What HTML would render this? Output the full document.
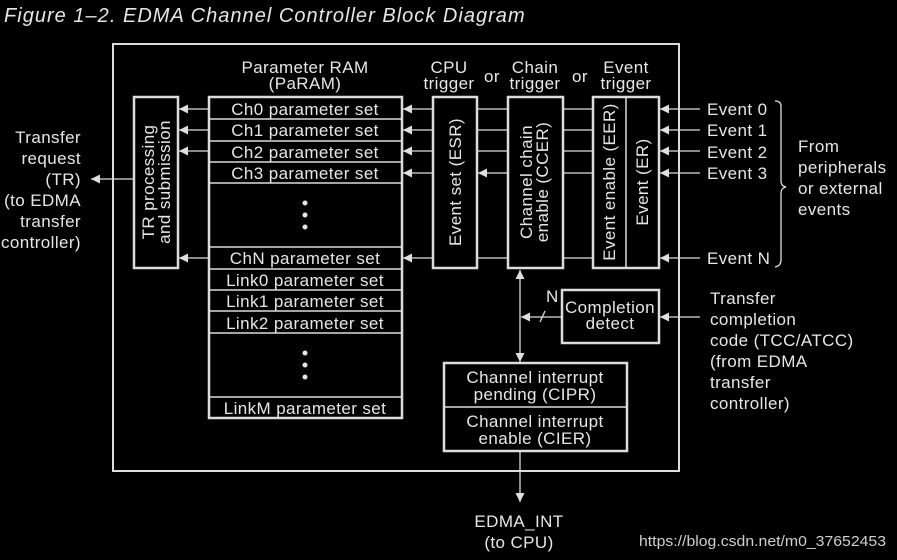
<!DOCTYPE html>
<html><head><meta charset="utf-8"><style>
html,body{margin:0;padding:0;background:#000;}
svg{display:block}
text{font-family:"Liberation Sans",sans-serif;fill:#e6e6e6;font-size:17px;letter-spacing:0.4px}
</style></head><body>
<svg width="897" height="560" viewBox="0 0 897 560" xmlns="http://www.w3.org/2000/svg">
<defs>
<marker id="a" viewBox="0 0 10 10" refX="10" refY="5" markerWidth="9" markerHeight="9" markerUnits="userSpaceOnUse" orient="auto"><path d="M0,0 L10,5 L0,10 z" fill="#e0e0e0"/></marker>
</defs>
<text x="4" y="22" font-style="italic" style="font-size:20px" textLength="521" lengthAdjust="spacing">Figure 1–2.  EDMA Channel Controller Block Diagram</text>
<g fill="none" stroke="#dcdcdc">
<rect x="113" y="44" width="566" height="427" stroke-width="2"/>
<rect x="134" y="97" width="44" height="171" stroke-width="2.5"/>
<rect x="209" y="97" width="193" height="321" stroke-width="2.5"/>
<rect x="433" y="97" width="44" height="171" stroke-width="2.5"/>
<rect x="508" y="97" width="55" height="171" stroke-width="2.5"/>
<rect x="593" y="97" width="66" height="171" stroke-width="2.5"/>
<line x1="626" y1="97" x2="626" y2="268" stroke-width="1.5"/>
<rect x="562" y="290" width="97" height="53" stroke-width="2.5"/>
<rect x="444" y="363" width="183" height="88" stroke-width="2.5"/>
<line x1="444" y1="407" x2="627" y2="407" stroke-width="1.5"/>
<g stroke-width="1.5">
<line x1="209" y1="119" x2="402" y2="119"/><line x1="209" y1="141" x2="402" y2="141"/>
<line x1="209" y1="162" x2="402" y2="162"/><line x1="209" y1="183" x2="402" y2="183"/>
<line x1="209" y1="247" x2="402" y2="247"/><line x1="209" y1="269" x2="402" y2="269"/>
<line x1="209" y1="290" x2="402" y2="290"/><line x1="209" y1="311" x2="402" y2="311"/>
<line x1="209" y1="333" x2="402" y2="333"/><line x1="209" y1="397" x2="402" y2="397"/>
</g>
<g stroke-width="1.3" marker-end="url(#a)">
<line x1="209" y1="109" x2="179" y2="109"/><line x1="209" y1="130" x2="179" y2="130"/>
<line x1="209" y1="151" x2="179" y2="151"/><line x1="209" y1="258" x2="179" y2="258"/>
<line x1="433" y1="109" x2="403" y2="109"/><line x1="433" y1="130" x2="403" y2="130"/>
<line x1="433" y1="151" x2="403" y2="151"/><line x1="433" y1="173" x2="403" y2="173"/>
<line x1="433" y1="258" x2="403" y2="258"/>
<line x1="508" y1="173" x2="478" y2="173"/>
<line x1="700" y1="109" x2="660" y2="109"/><line x1="700" y1="130" x2="660" y2="130"/>
<line x1="700" y1="151" x2="660" y2="151"/><line x1="700" y1="173" x2="660" y2="173"/>
<line x1="700" y1="258" x2="660" y2="258"/>
<line x1="700" y1="317" x2="660" y2="317"/>
<line x1="562" y1="317" x2="521" y2="317"/>
<line x1="134" y1="179" x2="91" y2="179"/>
<line x1="520" y1="451" x2="520" y2="502"/>
<line x1="520" y1="300" x2="520" y2="270"/>
<line x1="520" y1="300" x2="520" y2="362"/>
</g>
<g stroke-width="1.3">
<line x1="477" y1="109" x2="508" y2="109"/><line x1="477" y1="130" x2="508" y2="130"/>
<line x1="477" y1="151" x2="508" y2="151"/><line x1="477" y1="258" x2="508" y2="258"/>
<line x1="563" y1="109" x2="593" y2="109"/><line x1="563" y1="130" x2="593" y2="130"/>
<line x1="563" y1="151" x2="593" y2="151"/><line x1="563" y1="173" x2="593" y2="173"/>
<line x1="563" y1="258" x2="593" y2="258"/>
<line x1="545" y1="311" x2="540" y2="322"/>
<path d="M775,101 Q781,101 781,106 L781,181 Q781,186 786,187 Q781,188 781,193 L781,260 Q781,266 775,267"/>
</g>
</g>
<g fill="#e6e6e6">
<circle cx="305" cy="203" r="2.5"/><circle cx="305" cy="215" r="2.5"/><circle cx="305" cy="227" r="2.5"/>
<circle cx="305" cy="353" r="2.5"/><circle cx="305" cy="365" r="2.5"/><circle cx="305" cy="377" r="2.5"/>
</g>
<g text-anchor="middle">
<text x="305" y="73">Parameter RAM</text><text x="305" y="89">(PaRAM)</text>
<text x="449" y="73">CPU</text><text x="449" y="89">trigger</text>
<text x="492" y="82">or</text>
<text x="535" y="73">Chain</text><text x="535" y="89">trigger</text>
<text x="580" y="82">or</text>
<text x="626" y="73">Event</text><text x="626" y="89">trigger</text>
<text x="305" y="115">Ch0 parameter set</text>
<text x="305" y="136">Ch1 parameter set</text>
<text x="305" y="158">Ch2 parameter set</text>
<text x="305" y="179">Ch3 parameter set</text>
<text x="305" y="264">ChN parameter set</text>
<text x="305" y="286">Link0 parameter set</text>
<text x="305" y="307">Link1 parameter set</text>
<text x="305" y="329">Link2 parameter set</text>
<text x="305" y="414">LinkM parameter set</text>
<text x="610" y="313">Completion</text><text x="610" y="329">detect</text>
<text x="535" y="383">Channel interrupt</text><text x="535" y="400">pending (CIPR)</text>
<text x="535" y="427">Channel interrupt</text><text x="535" y="444">enable (CIER)</text>
<text x="519" y="527">EDMA_INT</text><text x="519" y="548">(to CPU)</text>
<text transform="translate(157,182) rotate(-90)" y="-3">TR processing</text>
<text transform="translate(157,182) rotate(-90)" y="13">and submission</text>
<text transform="translate(455,182) rotate(-90)" y="6">Event set (ESR)</text>
<text transform="translate(535,182) rotate(-90)" y="-3">Channel chain</text>
<text transform="translate(535,182) rotate(-90)" y="13">enable (CCER)</text>
<text transform="translate(609,182) rotate(-90)" y="6">Event enable (EER)</text>
<text transform="translate(642,182) rotate(-90)" y="6">Event (ER)</text>
</g>
<text x="546" y="302">N</text>
<g text-anchor="end">
<text x="81" y="143">Transfer</text><text x="81" y="164">request</text><text x="81" y="185">(TR)</text>
<text x="81" y="206">(to EDMA</text><text x="81" y="227">transfer</text><text x="81" y="248">controller)</text>
</g>
<text x="707" y="115">Event 0</text><text x="707" y="136">Event 1</text>
<text x="707" y="158">Event 2</text><text x="707" y="179">Event 3</text>
<text x="707" y="264">Event N</text>
<text x="798" y="152">From</text><text x="798" y="173">peripherals</text>
<text x="798" y="194">or external</text><text x="798" y="215">events</text>
<text x="710" y="304">Transfer</text><text x="710" y="325">completion</text>
<text x="710" y="346">code (TCC/ATCC)</text><text x="710" y="367">(from EDMA</text>
<text x="710" y="388">transfer</text><text x="710" y="409">controller)</text>
<text x="639" y="546" style="font-size:15px;fill:#cfcfcf;letter-spacing:0" textLength="247" lengthAdjust="spacingAndGlyphs">https://blog.csdn.net/m0_37652453</text>
</svg>
</body></html>
